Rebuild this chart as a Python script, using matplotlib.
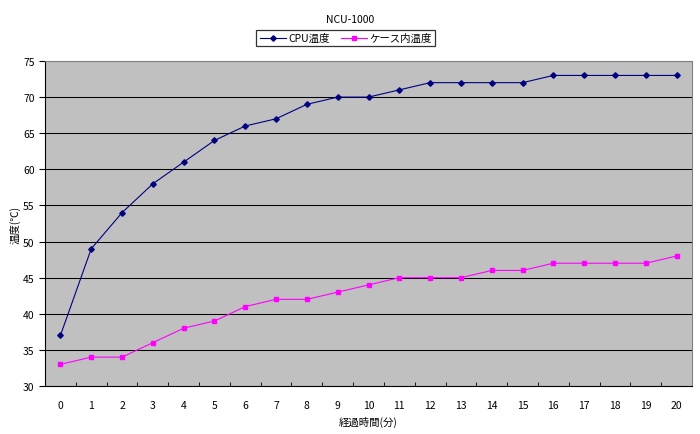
import matplotlib
matplotlib.use('Agg')
import matplotlib.pyplot as plt

plt.rcParams['font.family'] = ['Noto Sans CJK JP', 'DejaVu Sans']

minutes = list(range(21))
cpu_temp = [37, 49, 54, 58, 61, 64, 66, 67, 69, 70, 70, 71, 72, 72, 72, 72, 73, 73, 73, 73, 73]
case_temp = [33, 34, 34, 36, 38, 39, 41, 42, 42, 43, 44, 45, 45, 45, 46, 46, 47, 47, 47, 47, 48]

fig = plt.figure(figsize=(7, 4.35), dpi=100)
ax = fig.add_axes([0.0643, 0.1103, 0.9243, 0.7472])
ax.set_facecolor('#c0c0c0')

ax.plot(minutes, cpu_temp, color='#000080', lw=0.8, marker='D', ms=2.8, label='CPU温度')
ax.plot(minutes, case_temp, color='#ff00ff', lw=0.8, marker='s', ms=2.8, label='ケース内温度')

ax.set_xlim(-0.5, 20.5)
ax.set_ylim(30, 75)
ax.set_yticks(range(30, 76, 5))
ax.set_xticks(minutes)
ax.set_xticks([m - 0.5 for m in minutes] + [20.5], minor=True)
ax.tick_params(axis='x', which='major', length=0, labelsize=7.5, pad=10)
ax.tick_params(axis='x', which='minor', length=3, direction='in')
ax.tick_params(axis='y', length=4, direction='out', labelsize=7.5)
ax.grid(axis='y', color='black', lw=0.75)
ax.set_axisbelow(True)

for s in ['top', 'right']:
    ax.spines[s].set_color('#808080')
for s in ['left', 'bottom']:
    ax.spines[s].set_color('black')

ax.set_xlabel('経過時間(分)', fontsize=7.5, labelpad=4)
ax.set_ylabel('温度(℃)', fontsize=7.5, labelpad=2)

fig.text(0.5, 0.955, 'NCU-1000', ha='center', va='center', fontsize=7.5)
leg = fig.legend(loc='center', bbox_to_anchor=(0.494, 0.910), ncol=2, fontsize=7.5,
                 frameon=True, fancybox=False, edgecolor='black', handlelength=2.5,
                 handletextpad=0.3, columnspacing=1.0, borderpad=0.3)
leg.get_frame().set_linewidth(0.9)

fig.savefig('out.png', dpi=100)
